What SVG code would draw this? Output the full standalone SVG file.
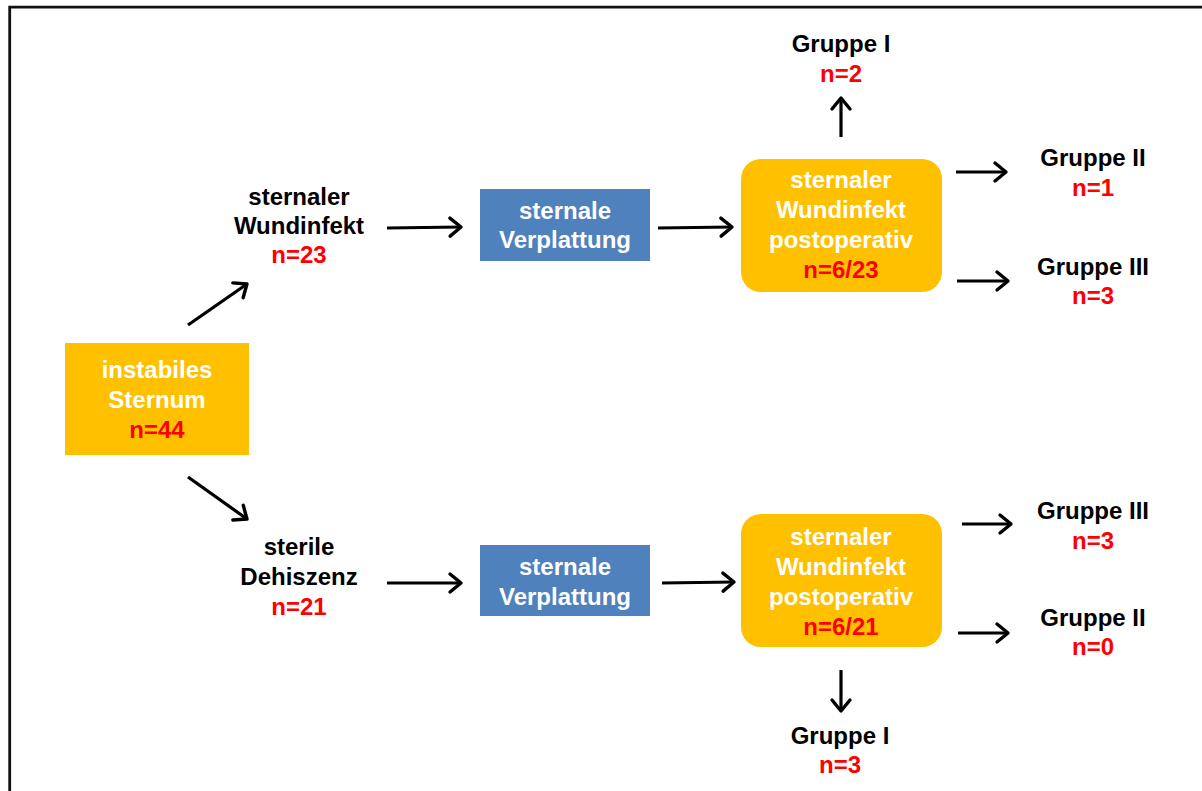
<svg xmlns="http://www.w3.org/2000/svg" width="1202" height="791" viewBox="0 0 1202 791">
<defs>
<style>
text{font-family:"Liberation Sans",Arial,sans-serif;font-weight:bold;font-size:24px;text-anchor:middle}
.w{fill:#FFFFFF}
.k{fill:#000000}
.r{fill:#FF0000}
.or{fill:#FFC000}
.bl{fill:#4F81BD}
.con line{stroke:#000;stroke-width:3.2;marker-end:url(#ah)}
</style>
<marker id="ah" markerUnits="userSpaceOnUse" markerWidth="30" markerHeight="30" refX="0" refY="0" viewBox="-15 -15 30 30" orient="auto" overflow="visible">
<path d="M-11,-9 L0,0 L-11,9" fill="none" stroke="#000" stroke-width="3.4" stroke-linejoin="round" stroke-linecap="round"/>
</marker>
</defs>
<rect width="1202" height="791" fill="#FFFFFF"/>
<path d="M9.7,791 V7.2 H1202" fill="none" stroke="#111" stroke-width="2.8"/>

<g id="n-instabil">
<rect class="or" x="65" y="343" width="184" height="112"/>
<text class="w" x="157" y="378">instabiles</text>
<text class="w" x="157" y="408">Sternum</text>
<text class="r" x="157" y="438">n=44</text>
</g>

<g id="n-wundinfekt">
<text class="k" x="299" y="205">sternaler</text>
<text class="k" x="299" y="234">Wundinfekt</text>
<text class="r" x="299" y="263">n=23</text>
</g>

<g id="n-verpl-top">
<rect class="bl" x="480" y="189" width="170" height="72"/>
<text class="w" x="565" y="219">sternale</text>
<text class="w" x="565" y="248">Verplattung</text>
</g>

<g id="n-postop-top">
<rect class="or" x="741" y="159" width="201" height="133" rx="20"/>
<text class="w" x="841" y="188">sternaler</text>
<text class="w" x="841" y="218">Wundinfekt</text>
<text class="w" x="841" y="248">postoperativ</text>
<text class="r" x="841" y="278">n=6/23</text>
</g>

<g id="n-g1-top">
<text class="k" x="841" y="52">Gruppe I</text>
<text class="r" x="841" y="82">n=2</text>
</g>
<g id="n-g2-top">
<text class="k" x="1093" y="166">Gruppe II</text>
<text class="r" x="1093" y="196">n=1</text>
</g>
<g id="n-g3-top">
<text class="k" x="1093" y="275">Gruppe III</text>
<text class="r" x="1093" y="304">n=3</text>
</g>

<g id="n-steril">
<text class="k" x="299" y="555">sterile</text>
<text class="k" x="299" y="585">Dehiszenz</text>
<text class="r" x="299" y="615">n=21</text>
</g>

<g id="n-verpl-bot">
<rect class="bl" x="480" y="545" width="170" height="71"/>
<text class="w" x="565" y="575">sternale</text>
<text class="w" x="565" y="605">Verplattung</text>
</g>

<g id="n-postop-bot">
<rect class="or" x="741" y="514" width="201" height="133" rx="20"/>
<text class="w" x="841" y="545">sternaler</text>
<text class="w" x="841" y="575">Wundinfekt</text>
<text class="w" x="841" y="605">postoperativ</text>
<text class="r" x="841" y="635">n=6/21</text>
</g>

<g id="n-g3-bot">
<text class="k" x="1093" y="519">Gruppe III</text>
<text class="r" x="1093" y="549">n=3</text>
</g>
<g id="n-g2-bot">
<text class="k" x="1093" y="626">Gruppe II</text>
<text class="r" x="1093" y="655">n=0</text>
</g>
<g id="n-g1-bot">
<text class="k" x="840" y="744">Gruppe I</text>
<text class="r" x="840" y="773">n=3</text>
</g>

<g id="connectors" class="con">
<line x1="188" y1="325" x2="247" y2="284"/>
<line x1="188" y1="477" x2="247" y2="519"/>
<line x1="387" y1="228" x2="461" y2="227"/>
<line x1="658" y1="228" x2="732" y2="227"/>
<line x1="841" y1="137" x2="841" y2="98"/>
<line x1="956" y1="172" x2="1006" y2="172"/>
<line x1="957" y1="281" x2="1008" y2="281"/>
<line x1="387" y1="583" x2="461" y2="583"/>
<line x1="662" y1="583" x2="734" y2="582"/>
<line x1="962" y1="524" x2="1011" y2="524"/>
<line x1="958" y1="633" x2="1008" y2="633"/>
<line x1="841" y1="670" x2="841" y2="711"/>
</g>
</svg>
